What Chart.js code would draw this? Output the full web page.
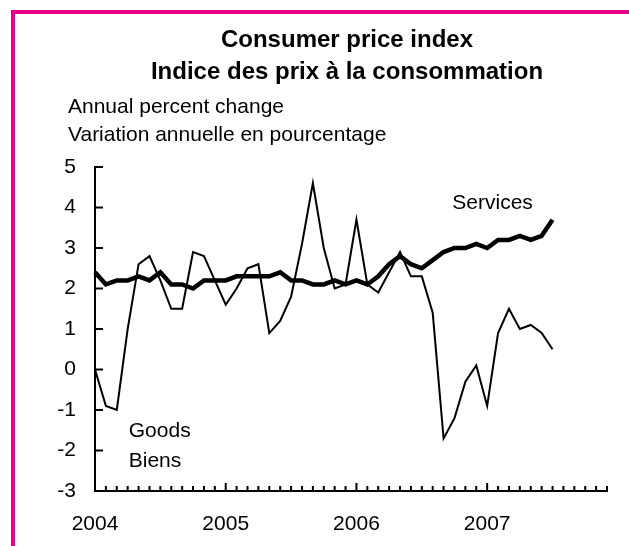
<!DOCTYPE html>
<html>
<head>
<meta charset="utf-8">
<title>Consumer price index</title>
<script src="https://cdn.jsdelivr.net/npm/chart.js@4.4.0/dist/chart.umd.min.js"></script>
<style>
  html, body { margin: 0; padding: 0; background: #fff; overflow: hidden; }
  #frame {
    position: absolute; left: 11px; top: 10px; width: 700px; height: 600px;
    border-top: 4px solid #e8008a; border-left: 4px solid #e8008a;
  }
  #myChart { position: absolute; left: 0; top: 0; }
</style>
</head>
<body>
<div id="frame"></div>
<canvas id="myChart" width="629" height="546"></canvas>
<script>
// data, monthly from Jan 2004 to Jul 2007
const years = ['2004', '2005', '2006', '2007'];
const months = ['Jan', 'Feb', 'Mar', 'Apr', 'May', 'Jun', 'Jul', 'Aug', 'Sep', 'Oct', 'Nov', 'Dec'];
const goods = [0, -0.9, -1.0, 1.0, 2.6, 2.8, 2.2, 1.5, 1.5, 2.9, 2.8, 2.2,
  1.6, 2.0, 2.5, 2.6, 0.9, 1.2, 1.8, 3.1, 4.6, 3.0, 2.0, 2.1,
  3.7, 2.1, 1.9, 2.4, 2.9, 2.3, 2.3, 1.4, -1.7, -1.2, -0.3, 0.1,
  -0.9, 0.9, 1.5, 1.0, 1.1, 0.9, 0.5];
const services = [2.4, 2.1, 2.2, 2.2, 2.3, 2.2, 2.4, 2.1, 2.1, 2.0, 2.2, 2.2,
  2.2, 2.3, 2.3, 2.3, 2.3, 2.4, 2.2, 2.2, 2.1, 2.1, 2.2, 2.1,
  2.2, 2.1, 2.3, 2.6, 2.8, 2.6, 2.5, 2.7, 2.9, 3.0, 3.0, 3.1,
  3.0, 3.2, 3.2, 3.3, 3.2, 3.3, 3.7];
const y_min = -3;
const y_max = 5;
const title_lines = ['Consumer price index', 'Indice des prix à la consommation'];
const subtitle_lines = ['Annual percent change', 'Variation annuelle en pourcentage'];
const series_names = ['Goods', 'Biens', 'Services'];

let categories = [];
years.forEach((year) => {
  months.forEach((m) => categories.push(m + ' ' + year));
});

const font_family = '"Liberation Sans", Arial, Helvetica, sans-serif';
Chart.defaults.font.family = font_family;
Chart.defaults.color = '#000';

// small ticks pointing inside the plot + the series names
const inside_ticks = {
  id: 'insideTicks',
  afterLayout(chart) {
    // title is centred a bit right of the canvas middle
    chart.titleBlock.right = 626;
    // let the y labels hang out left of the narrow axis box
    chart.scales.y.left = 30;
  },
  afterDatasetsDraw(chart) {
    const ctx = chart.ctx;
    const x = chart.scales.x;
    const y = chart.scales.y;
    ctx.save();
    ctx.strokeStyle = '#000';
    ctx.lineWidth = 2;
    ctx.beginPath();
    categories.forEach((c, i) => {
      const px = x.getPixelForValue(i);
      const len = i % 12 === 0 ? 8 : 5;
      ctx.moveTo(px, y.bottom);
      ctx.lineTo(px, y.bottom - len);
    });
    y.ticks.forEach((t) => {
      const py = y.getPixelForValue(t.value);
      ctx.moveTo(x.left, py);
      ctx.lineTo(x.left + 8, py);
    });
    ctx.stroke();

    ctx.fillStyle = '#000';
    ctx.font = '21px ' + font_family;
    ctx.textAlign = 'left';
    ctx.textBaseline = 'middle';
    ctx.fillText(series_names[2], x.getPixelForValue(32.8), y.getPixelForValue(4.1));
    ctx.fillText(series_names[0], x.getPixelForValue(3.1), y.getPixelForValue(-1.52));
    ctx.fillText(series_names[1], x.getPixelForValue(3.1), y.getPixelForValue(-2.26));
    ctx.restore();
  }
};

const ctx = document.getElementById('myChart').getContext('2d');
const myChart = new Chart(ctx, {
  type: 'line',
  data: {
    labels: categories,
    datasets: [
      {
        label: 'Services',
        data: services,
        borderColor: '#000',
        borderWidth: 4.5,
        pointRadius: 0,
        tension: 0,
      },
      {
        label: 'Goods',
        data: goods,
        borderColor: '#000',
        borderWidth: 2,
        pointRadius: 0,
        tension: 0,
      },
    ],
  },
  options: {
    responsive: false,
    animation: false,
    layout: {
      padding: { left: 68, right: 22, top: 0, bottom: 0 },
    },
    scales: {
      x: {
        type: 'category',
        offset: false,
        grid: { display: false, drawTicks: false },
        border: { display: true, color: '#000', width: 2 },
        ticks: {
          autoSkip: false,
          maxRotation: 0,
          padding: 21,
          font: { size: 21 },
          callback: (val, index) => (index % 12 === 0 ? years[index / 12] : ''),
        },
        afterFit: (scale) => { scale.height = 55; },
      },
      y: {
        min: y_min,
        max: y_max,
        grid: { display: false, drawTicks: false },
        border: { display: true, color: '#000', width: 2 },
        ticks: {
          stepSize: 1,
          padding: 19,
          font: { size: 21 },
        },
        afterFit: (scale) => { scale.width = 27; },
      },
    },
    plugins: {
      legend: { display: false },
      tooltip: { enabled: false },
      title: {
        display: true,
        text: title_lines,
        color: '#000',
        font: { size: 24, weight: 'bold', lineHeight: 32 / 24 },
        padding: { top: 24, bottom: 2 },
      },
      subtitle: {
        display: true,
        text: subtitle_lines,
        align: 'start',
        color: '#000',
        font: { size: 21, weight: 'normal', lineHeight: 28 / 21 },
        padding: { top: 3, bottom: 18 },
      },
    },
  },
  plugins: [inside_ticks],
});
</script>
</body>
</html>
